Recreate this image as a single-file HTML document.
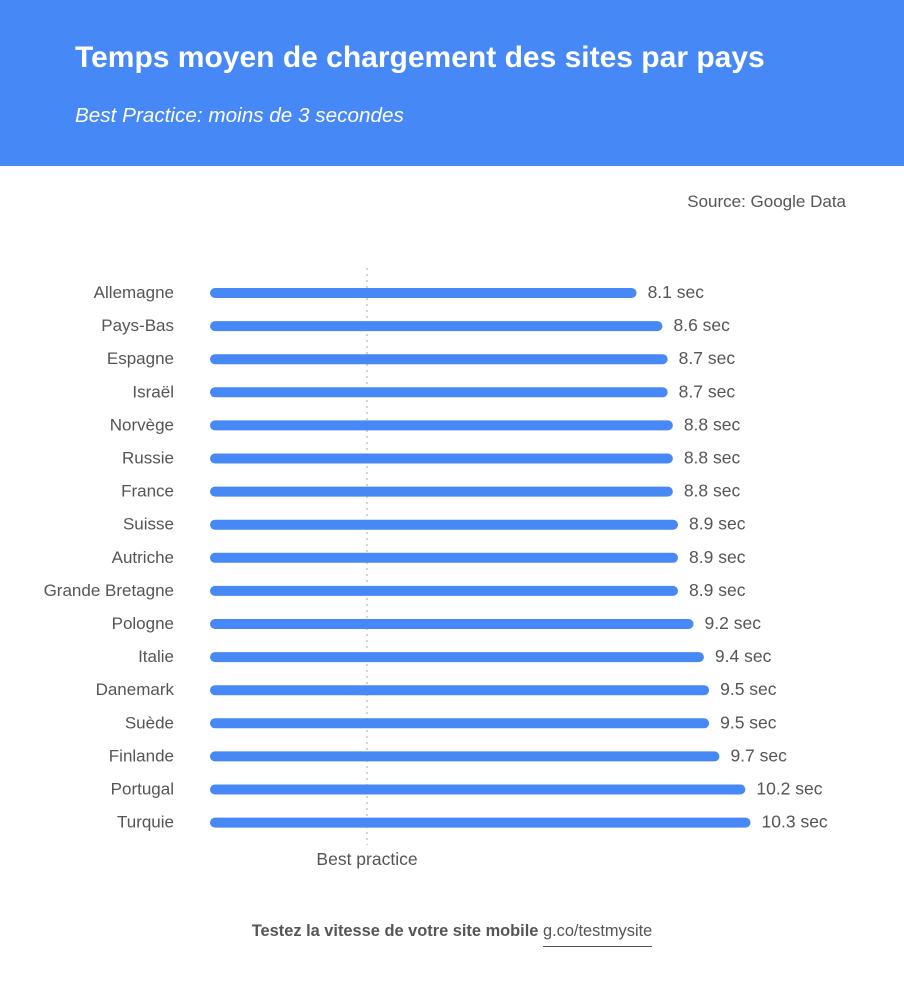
<!DOCTYPE html>
<html><head><meta charset="utf-8"><style>
body{margin:0;width:904px;height:1000px;background:#fff;font-family:"Liberation Sans",sans-serif;overflow:hidden;position:relative}
.hdr{position:absolute;left:0;top:0;width:904px;height:166px;background:#4688f5}
.title{position:absolute;left:75px;top:41px;color:#fff;font-weight:bold;font-size:30px}
.sub{position:absolute;left:75px;top:104px;color:#fff;font-style:italic;font-size:20.7px}
.src{position:absolute;right:58px;top:192px;color:#555;font-size:17px}
.foot{position:absolute;left:0;width:904px;top:922px;text-align:center;color:#555;font-size:16.4px}
.foot b{font-weight:bold}
.foot span{border-bottom:1px solid #555;padding-bottom:6px}
</style></head><body>
<div class="hdr"></div>
<div class="title">Temps moyen de chargement des sites par pays</div>
<div class="sub">Best Practice: moins de 3 secondes</div>
<div class="src">Source: Google Data</div>
<svg id="chart" width="904" height="1000" style="position:absolute;left:0;top:0"></svg>
<div class="foot"><b>Testez la vitesse de votre site mobile</b> <span>g.co/testmysite</span></div>
<script>
const countries=["Allemagne","Pays-Bas","Espagne","Israël","Norvège","Russie","France","Suisse","Autriche","Grande Bretagne","Pologne","Italie","Danemark","Suède","Finlande","Portugal","Turquie"];
const values=[8.1,8.6,8.7,8.7,8.8,8.8,8.8,8.9,8.9,8.9,9.2,9.4,9.5,9.5,9.7,10.2,10.3];
const bestPractice=3;
const NS="http://www.w3.org/2000/svg";
const svg=document.getElementById('chart');
const x0=215,sc=51.8,y0=293,step=33.1;
const xs=v=>x0+v*sc, ys=i=>y0+i*step;
function mk(t,a){const e=document.createElementNS(NS,t);for(const k in a)e.setAttribute(k,a[k]);svg.appendChild(e);return e;}
const bx=367;
const ln=mk('line',{x1:bx,x2:bx,y1:268,y2:845,stroke:'#aaa','stroke-width':1,'stroke-dasharray':'2,4'});


const bt=mk('text',{x:bx,y:865,'text-anchor':'middle','font-size':17.5,fill:'#555'});
bt.textContent='Best practice';


countries.forEach((c,i)=>{
 const y=ys(i);
 const l=mk('text',{x:174,y:y+5,'text-anchor':'end','font-size':17,fill:'#555'});
 l.textContent=c;
 
 
 const b=mk('line',{x1:x0,x2:xs(values[i])-3,y1:y,y2:y,stroke:'#4688f5','stroke-width':10,'stroke-linecap':'round'});
 
 
 const v=mk('text',{x:xs(values[i])+13,y:y+5,'font-size':17.5,fill:'#555'});
 v.textContent=values[i]+' sec';
 
 
});
</script>
</body></html>
